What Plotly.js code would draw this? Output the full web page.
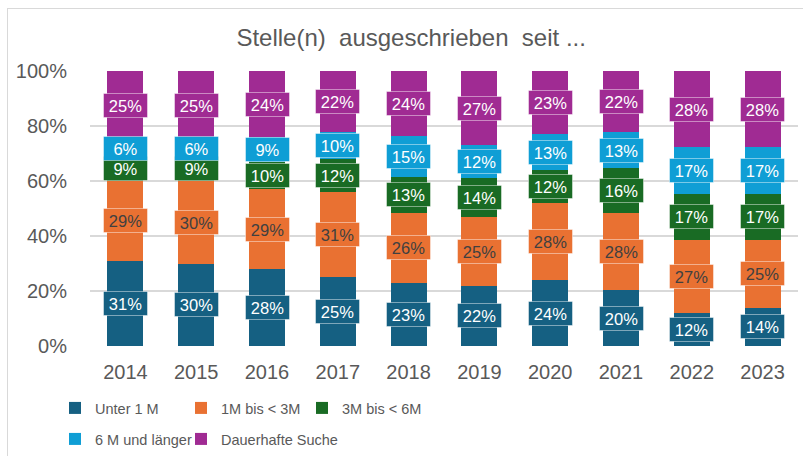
<!DOCTYPE html>
<html><head><meta charset="utf-8">
<script src="https://cdn.plot.ly/plotly-3.0.1.min.js"></script>
<style>html,body{margin:0;padding:0;background:#fff;}#wrap{position:relative;width:803px;height:456px;overflow:hidden;}
#chart{width:803px;height:456px;}#frame{position:absolute;left:7px;top:8px;width:820px;height:470px;border:1px solid #d9d9d9;pointer-events:none;}</style>
</head><body><div id="wrap"><div id="chart"></div><div id="frame"></div></div>
<script>
const years = ['2014','2015','2016','2017','2018','2019','2020','2021','2022','2023'];
const seriesNames = ['Unter 1 M','1M bis < 3M','3M bis < 6M','6 M und länger','Dauerhafte Suche'];
const unter1M   = [31,30,28,25,23,22,24,20,12,14];
const m1bis3    = [29,30,29,31,26,25,28,28,27,25];
const m3bis6    = [9,9,10,12,13,14,12,16,17,17];
const m6laenger = [6,6,9,10,15,12,13,13,17,17];
const dauerhaft = [25,25,24,22,24,27,23,22,28,28];
const colors = ['#156082','#E97132','#196B24','#0F9ED5','#A02B93'];
const textColors = ['#ffffff','#404040','#ffffff','#ffffff','#ffffff'];
const values = [unter1M,m1bis3,m3bis6,m6laenger,dauerhaft];
const legendIds = ['legend','legend2','legend3','legend4','legend5'];

const traces = values.map((v,i)=>({
  type:'bar', name:seriesNames[i], x:years, y:v, showlegend:true,
  marker:{color:colors[i]}, legend:legendIds[i], hoverinfo:'skip'
}));

// label annotations at normalized segment centers (x given as category index)
const annotations = [];
years.forEach((yr,j)=>{
  const total = values.reduce((s,arr)=>s+arr[j],0);
  let cum = 0;
  values.forEach((arr,i)=>{
    const share = arr[j]/total*100;
    annotations.push({x:j, y:cum+share/2, xref:'x', yref:'y', text:arr[j]+'%', showarrow:false,
      font:{family:'Liberation Sans, Arial, sans-serif', size:16.5, color:textColors[i]},
      bgcolor:colors[i], bordercolor:'rgba(255,255,255,0.45)', borderwidth:1, borderpad:2,
      width:39, height:19, align:'center', valign:'middle'});
    cum += share;
  });
});

const legendFont = {family:'Liberation Sans, Arial, sans-serif', size:14.5, color:'#595959'};
// legend item placement (left edge in px, row centre in px)
const legendLeft = [55,181,302,55,181];
const legendRow  = [408,408,408,439,439];
const plotL = 90, plotW = 803-90-5;

const layout = {
  width:803, height:456, showlegend:true,
  margin:{l:90,r:5,t:71,b:110},
  paper_bgcolor:'#ffffff', plot_bgcolor:'#ffffff',
  barmode:'stack', barnorm:'percent', bargap:0.49,
  font:{family:'Liberation Sans, Arial, sans-serif', color:'#595959'},
  title:{text:'Stelle(n)  ausgeschrieben  seit ...', x:0.512, xref:'container', xanchor:'center', y:1-38/456, yref:'container', yanchor:'middle',
    font:{size:24, color:'#595959', family:'Liberation Sans, Arial, sans-serif'}},
  xaxis:{type:'category', range:[-0.5,9.5], autorange:false, showgrid:false, zeroline:false, showline:false, ticks:'outside', ticklen:8, tickcolor:'rgba(0,0,0,0)',
    tickfont:{size:20, color:'#595959'}},
  yaxis:{range:[0,100], autorange:false, dtick:20, ticksuffix:'%', showgrid:true, gridcolor:'#d9d9d9', gridwidth:1.5, zeroline:false,
    ticks:'outside', ticklen:18, tickcolor:'rgba(0,0,0,0)', tickfont:{size:20, color:'#595959'}},
  annotations:annotations
};
legendIds.forEach((id,i)=>{
  layout[id] = {visible:true, orientation:'h', x:(legendLeft[i]-plotL)/plotW, xanchor:'left', y:1-legendRow[i]/456, yref:'container', yanchor:'middle',
    font:legendFont, bgcolor:'rgba(0,0,0,0)'};
});
Plotly.newPlot('chart', traces, layout, {displayModeBar:false, staticPlot:true});
</script></body></html>
